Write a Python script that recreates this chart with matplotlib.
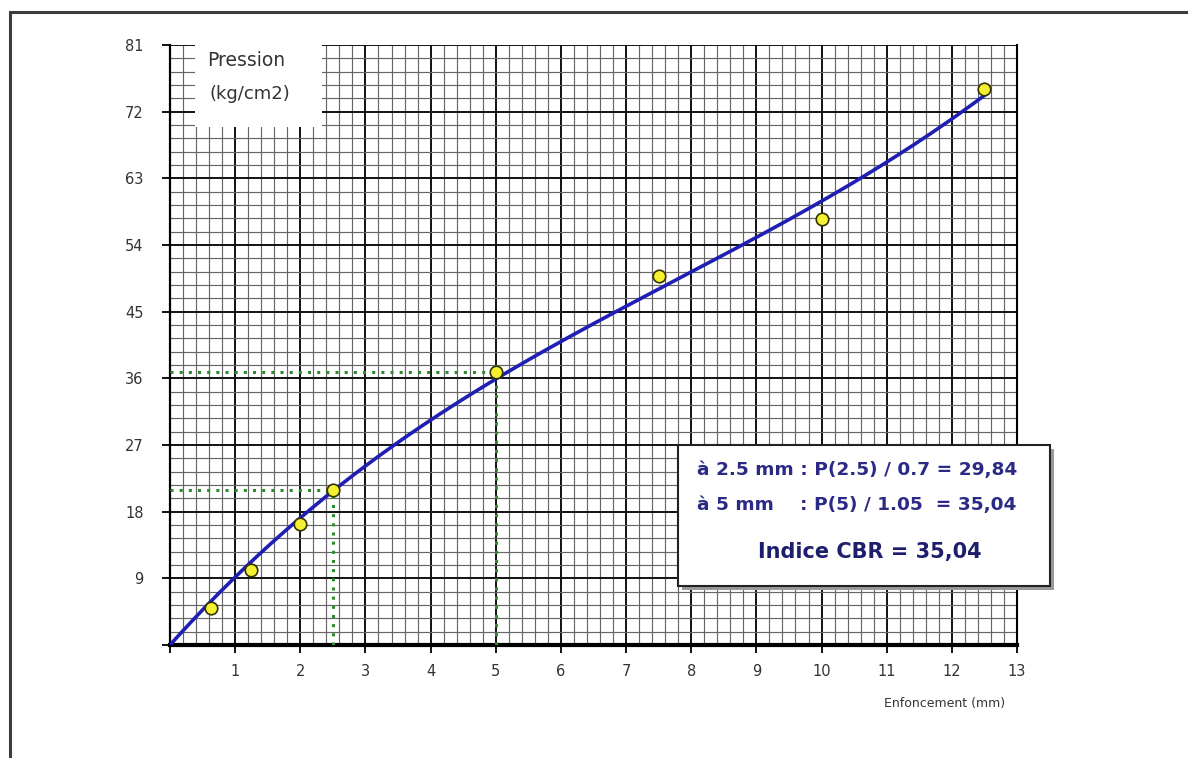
import numpy as np
import matplotlib
matplotlib.use("Agg")
import matplotlib.pyplot as plt
from matplotlib.patches import Rectangle

# Penetration test readings
enfoncement = [0.625, 1.25, 2.0, 2.5, 5.0, 7.5, 10.0, 12.5]        # mm
pression = [5.0, 10.1, 16.3, 20.89, 36.79, 49.8, 57.5, 75.0]      # kg/cm2

x_ticks = list(range(0, 14))
x_tick_labels = [""] + [str(v) for v in range(1, 14)]
y_ticks = list(range(0, 82, 9))
y_tick_labels = [""] + [str(v) for v in range(9, 82, 9)]

p25, p5 = 20.89, 36.79
cbr_line1 = "à 2.5 mm : P(2.5) / 0.7 = 29,84"
cbr_line2_left = "à 5 mm"
cbr_line2_right = ": P(5) / 1.05  = 35,04"
cbr_result = "Indice CBR = 35,04"

W, H = 1188, 758
fig = plt.figure(figsize=(W / 100, H / 100), dpi=100)
fig.patch.set_facecolor("white")


def fx(px):
    return px / W


def fy(py):
    return 1 - py / H


# outer page frame
fig.add_artist(Rectangle((fx(10), fy(770)), fx(1200), fy(12) - fy(770),
                         transform=fig.transFigure, fill=False,
                         edgecolor="#3c3c3c", linewidth=2.2, clip_on=False))

ax = fig.add_axes([fx(170), fy(645), fx(1017) - fx(170), fy(45) - fy(645)])
ax.set_xlim(0, 13)
ax.set_ylim(0, 81)

ax.set_xticks(x_ticks)
ax.set_xticklabels(x_tick_labels)
ax.set_yticks(y_ticks)
ax.set_yticklabels(y_tick_labels)
ax.set_xticks(np.arange(0, 13.01, 0.2), minor=True)
ax.set_yticks(np.arange(0, 81.01, 1.8), minor=True)

ax.grid(which="major", color="#111111", linewidth=1.4, zorder=1)
ax.grid(which="minor", color="#666666", linewidth=0.85, zorder=1)
ax.set_axisbelow(True)

ax.tick_params(which="major", direction="out", length=6, width=1.4,
               color="#111111", labelsize=10.5, labelcolor="#333333")
ax.tick_params(axis="y", which="major", pad=13)
ax.tick_params(axis="x", which="major", pad=8)
ax.tick_params(which="minor", length=0)

ax.spines["top"].set_visible(False)
ax.spines["right"].set_linewidth(1.5)
ax.spines["left"].set_linewidth(1.6)
ax.spines["bottom"].set_linewidth(3)

# white label area at top left
ax.add_patch(Rectangle((25 / 847, (645 - 127) / 600), 127 / 847, 1,
                       transform=ax.transAxes, facecolor="white",
                       edgecolor="none", zorder=2, clip_on=False))
ax.text(37 / 847, (645 - 60) / 600, "Pression", transform=ax.transAxes,
        fontsize=13.5, color="#333333", va="center", ha="left", zorder=3)
ax.text(40 / 847, (645 - 94) / 600, "(kg/cm2)", transform=ax.transAxes,
        fontsize=13, color="#333333", va="center", ha="left", zorder=3)

# guide lines at 2.5 and 5 mm
guide = dict(color="#2e8b2e", linestyle=(0, (1, 2)), linewidth=2.2, zorder=4)
ax.plot([0, 2.5], [p25, p25], **guide)
ax.plot([2.5, 2.5], [0, p25], **guide)
ax.plot([0, 5], [p5, p5], **guide)
ax.plot([5, 5], [0, p5], **guide)

# least-squares cubic through the origin
xs = np.array(enfoncement)
ys = np.array(pression)
powers = [1, 2, 3]
basis = np.vstack([xs ** k for k in powers]).T
c, *_ = np.linalg.lstsq(basis, ys, rcond=None)
xf = np.linspace(0, max(enfoncement), 300)
yf = sum(ck * xf ** k for ck, k in zip(c, powers))
ax.plot(xf, yf, color="#1f1fb4", linewidth=2.6, zorder=5)
ax.plot(enfoncement, pression, linestyle="none", marker="o", markersize=9,
        markerfacecolor="#f5f032", markeredgecolor="#333300",
        markeredgewidth=1.2, zorder=6)

fig.text(fx(1005), fy(703), "Enfoncement (mm)", ha="right", va="center",
         fontsize=9, color="#333333")

# result box with shadow
fig.add_artist(Rectangle((fx(682), fy(590)), fx(1054) - fx(682), fy(449) - fy(590),
                         transform=fig.transFigure, facecolor="#9a9a9a",
                         edgecolor="none", zorder=9))
fig.add_artist(Rectangle((fx(678), fy(586)), fx(1050) - fx(678), fy(445) - fy(586),
                         transform=fig.transFigure, facecolor="white",
                         edgecolor="#222222", linewidth=1.5, zorder=10))
navy = "#2b2b86"
box_font = dict(fontsize=13.3, fontweight="bold", color=navy, zorder=11,
                ha="left", va="center")
fig.text(fx(697), fy(470), cbr_line1, **box_font)
# align the colon of the second line with the first one
probe = fig.text(fx(697), fy(470), cbr_line1.split(":")[0], **box_font)
renderer = fig.canvas.get_renderer()
colon_px = probe.get_window_extent(renderer).x1
probe.remove()
fig.text(fx(697), fy(505), cbr_line2_left, **box_font)
fig.text(colon_px / W, fy(505), cbr_line2_right, **box_font)
fig.text(fx(870), fy(552), cbr_result, ha="center", va="center", fontsize=15,
         fontweight="bold", color="#1e1e6e", zorder=11)

fig.savefig("out.png", dpi=100, facecolor="white")
